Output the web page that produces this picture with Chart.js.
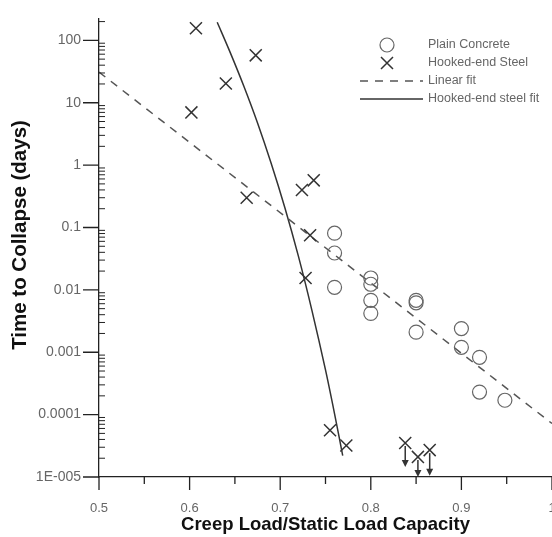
<!DOCTYPE html>
<html>
<head>
<meta charset="utf-8">
<script src="https://cdn.jsdelivr.net/npm/chart.js@4"></script>
<style>
  html, body { margin: 0; padding: 0; background: #fff; overflow: hidden; }
  #wrap { position: relative; width: 562px; height: 537px; }
</style>
</head>
<body>
<div id="wrap"><canvas id="creepChart" width="562" height="537"></canvas></div>
<script>
// Plain concrete specimens
const plainX = [0.76, 0.76, 0.76, 0.80, 0.80, 0.80, 0.80, 0.85, 0.85, 0.85, 0.90, 0.90, 0.92, 0.92, 0.948];
const plainY = [0.081, 0.039, 0.011, 0.0155, 0.0123, 0.0068, 0.0042, 0.0068, 0.0062, 0.0021, 0.0024, 0.0012, 0.00083, 0.00023, 0.00017];

// Hooked-end steel specimens
const steelX = [0.602, 0.607, 0.640, 0.673, 0.663, 0.724, 0.737, 0.733, 0.728, 0.755, 0.773, 0.838, 0.852, 0.865];
const steelY = [7.0, 156, 20.4, 57.5, 0.30, 0.40, 0.57, 0.075, 0.0155, 5.6e-5, 3.2e-5, 3.5e-5, 2.1e-5, 2.7e-5];

// specimens that had not failed (arrow pointing down)
const runoutX = [0.838, 0.852, 0.865];
const runoutFrom = [3.5e-5, 2.1e-5, 2.7e-5];
const runoutTo = [1.45e-5, 1.0e-5, 1.05e-5];

// fitted curves
const linearFitX = [0.5, 1.0];
const linearFitY = [31, 7.2e-5];
const steelFitX = [0.6305, 0.645, 0.660, 0.675, 0.690, 0.705, 0.720, 0.735, 0.750, 0.760, 0.769];
const steelFitY = [195, 63, 18.2, 4.73, 1.07, 0.211, 0.035, 0.0047, 5.2e-4, 1.03e-4, 2.2e-5];

// ticks
const xTicks = [0.5, 0.6, 0.7, 0.8, 0.9, 1.0];
const xTickLabels = ["0.5", "0.6", "0.7", "0.8", "0.9", "1"];
const xMinorTicks = [0.55, 0.65, 0.75, 0.85, 0.95];
const yTicks = [0.00001, 0.0001, 0.001, 0.01, 0.1, 1, 10, 100];
const yTickLabels = ["1E-005", "0.0001", "0.001", "0.01", "0.1", "1", "10", "100"];
const yTitle = "Time to Collapse (days)";

const toPoints = (xs, ys) => xs.map((x, i) => ({ x: x, y: ys[i] }));
const noPad = (s) => { s.paddingLeft = 0; s.paddingRight = 0; s.paddingTop = 0; s.paddingBottom = 0; };

// tick marks, run-out arrows, y title and legend
const extras = {
    id: "extras",
    afterDraw(chart) {
        const { ctx, scales: { x, y } } = chart;
        const xAxisY = y.getPixelForValue(y.min);
        const yAxisX = x.getPixelForValue(x.min);
        ctx.save();
        ctx.strokeStyle = "#222";
        ctx.lineWidth = 1.3;
        ctx.beginPath();
        xTicks.forEach((v) => {
            const px = x.getPixelForValue(v);
            ctx.moveTo(px, xAxisY);
            ctx.lineTo(px, xAxisY + 13);
        });
        xMinorTicks.forEach((v) => {
            const px = x.getPixelForValue(v);
            ctx.moveTo(px, xAxisY);
            ctx.lineTo(px, xAxisY + 7);
        });
        yTicks.forEach((v) => {
            const py = y.getPixelForValue(v);
            ctx.moveTo(yAxisX - 16, py);
            ctx.lineTo(yAxisX, py);
        });
        ctx.stroke();

        // minor log ticks inside the plot
        ctx.lineWidth = 1;
        ctx.beginPath();
        yTicks.forEach((v) => {
            for (let m = 2; m <= 9; m++) {
                const val = v * m;
                if (val > y.max) break;
                const py = y.getPixelForValue(val);
                ctx.moveTo(yAxisX, py);
                ctx.lineTo(yAxisX + 6, py);
            }
        });
        ctx.stroke();

        // run-out arrows
        ctx.strokeStyle = "#333";
        ctx.fillStyle = "#333";
        ctx.lineWidth = 1.5;
        runoutX.forEach((v, i) => {
            const px = x.getPixelForValue(v);
            const y1 = y.getPixelForValue(runoutFrom[i]) + 3;
            const y2 = y.getPixelForValue(runoutTo[i]);
            ctx.beginPath();
            ctx.moveTo(px, y1);
            ctx.lineTo(px, y2 - 6);
            ctx.stroke();
            ctx.beginPath();
            ctx.moveTo(px - 3.5, y2 - 7);
            ctx.lineTo(px + 3.5, y2 - 7);
            ctx.lineTo(px, y2);
            ctx.closePath();
            ctx.fill();
        });

        // y axis title
        ctx.save();
        ctx.translate(20, 235);
        ctx.rotate(-Math.PI / 2);
        ctx.font = "bold 20.5px 'Liberation Sans', Arial, sans-serif";
        ctx.fillStyle = "#111";
        ctx.textAlign = "center";
        ctx.textBaseline = "middle";
        ctx.fillText(yTitle, 0, 0);
        ctx.restore();

        // legend
        const ds = chart.data.datasets;
        const lx = 387, tx = 428;
        const rows = [45, 63, 81, 99];
        ctx.font = "12.5px 'Liberation Sans', Arial, sans-serif";
        ctx.textBaseline = "middle";
        ctx.fillStyle = "#666";
        ds.forEach((d, i) => ctx.fillText(d.label, tx, rows[i]));

        ctx.strokeStyle = "#666";
        ctx.lineWidth = 1.2;
        ctx.beginPath();
        ctx.arc(lx, rows[0], 7, 0, Math.PI * 2);
        ctx.stroke();

        ctx.strokeStyle = "#333";
        ctx.lineWidth = 1.5;
        ctx.beginPath();
        ctx.moveTo(lx - 6, rows[1] - 6);
        ctx.lineTo(lx + 6, rows[1] + 6);
        ctx.moveTo(lx + 6, rows[1] - 6);
        ctx.lineTo(lx - 6, rows[1] + 6);
        ctx.stroke();

        ctx.strokeStyle = "#555";
        ctx.setLineDash([8, 7]);
        ctx.beginPath();
        ctx.moveTo(360, rows[2]);
        ctx.lineTo(423, rows[2]);
        ctx.stroke();

        ctx.strokeStyle = "#333";
        ctx.setLineDash([]);
        ctx.beginPath();
        ctx.moveTo(360, rows[3]);
        ctx.lineTo(423, rows[3]);
        ctx.stroke();
        ctx.restore();
    },
};

const ctx = document.getElementById("creepChart").getContext("2d");
new Chart(ctx, {
    type: "scatter",
    data: {
        datasets: [
            {
                label: "Plain Concrete",
                data: toPoints(plainX, plainY),
                pointStyle: "circle",
                pointRadius: 7,
                borderColor: "#666",
                borderWidth: 1.2,
                backgroundColor: "rgba(0,0,0,0)",
            },
            {
                label: "Hooked-end Steel",
                data: toPoints(steelX, steelY),
                pointStyle: "crossRot",
                pointRadius: 8.5,
                borderColor: "#333",
                borderWidth: 1.5,
            },
            {
                label: "Linear fit",
                data: toPoints(linearFitX, linearFitY),
                showLine: true,
                pointRadius: 0,
                borderColor: "#555",
                borderWidth: 1.5,
                borderDash: [8, 7],
            },
            {
                label: "Hooked-end steel fit",
                data: toPoints(steelFitX, steelFitY),
                showLine: true,
                pointRadius: 0,
                borderColor: "#333",
                borderWidth: 1.5,
                tension: 0.3,
            },
        ],
    },
    options: {
        responsive: false,
        animation: false,
        devicePixelRatio: 1,
        layout: { padding: { left: 0, right: 6, top: 19, bottom: 0 } },
        plugins: {
            legend: { display: false },
            tooltip: { enabled: false },
        },
        scales: {
            x: {
                type: "linear",
                min: 0.5,
                max: 1.0,
                afterFit: (s) => { s.height = 60; noPad(s); },
                afterBuildTicks: (s) => { s.ticks = xTicks.map((v) => ({ value: v })); },
                grid: { display: false, drawTicks: false },
                border: { display: true, color: "#222", width: 1.3 },
                ticks: {
                    autoSkip: false,
                    maxRotation: 0,
                    padding: 24,
                    color: "#666",
                    font: { family: "'Liberation Sans', Arial", size: 13 },
                    callback: (v, i) => xTickLabels[i],
                },
                title: {
                    display: true,
                    text: "Creep Load/Static Load Capacity",
                    color: "#111",
                    font: { family: "'Liberation Sans', Arial", size: 18.5, weight: "bold" },
                    padding: { top: 0, bottom: 1 },
                },
            },
            y: {
                type: "logarithmic",
                min: 0.00001,
                max: 220,
                afterFit: (s) => { s.width = 99; noPad(s); },
                afterBuildTicks: (s) => { s.ticks = yTicks.map((v) => ({ value: v })); },
                grid: { display: false, drawTicks: false },
                border: { display: true, color: "#222", width: 1.3 },
                ticks: {
                    autoSkip: false,
                    padding: 18,
                    color: "#666",
                    font: { family: "'Liberation Sans', Arial", size: 14 },
                    callback: (v, i) => yTickLabels[i],
                },
            },
        },
    },
    plugins: [extras],
});
</script>
</body>
</html>
